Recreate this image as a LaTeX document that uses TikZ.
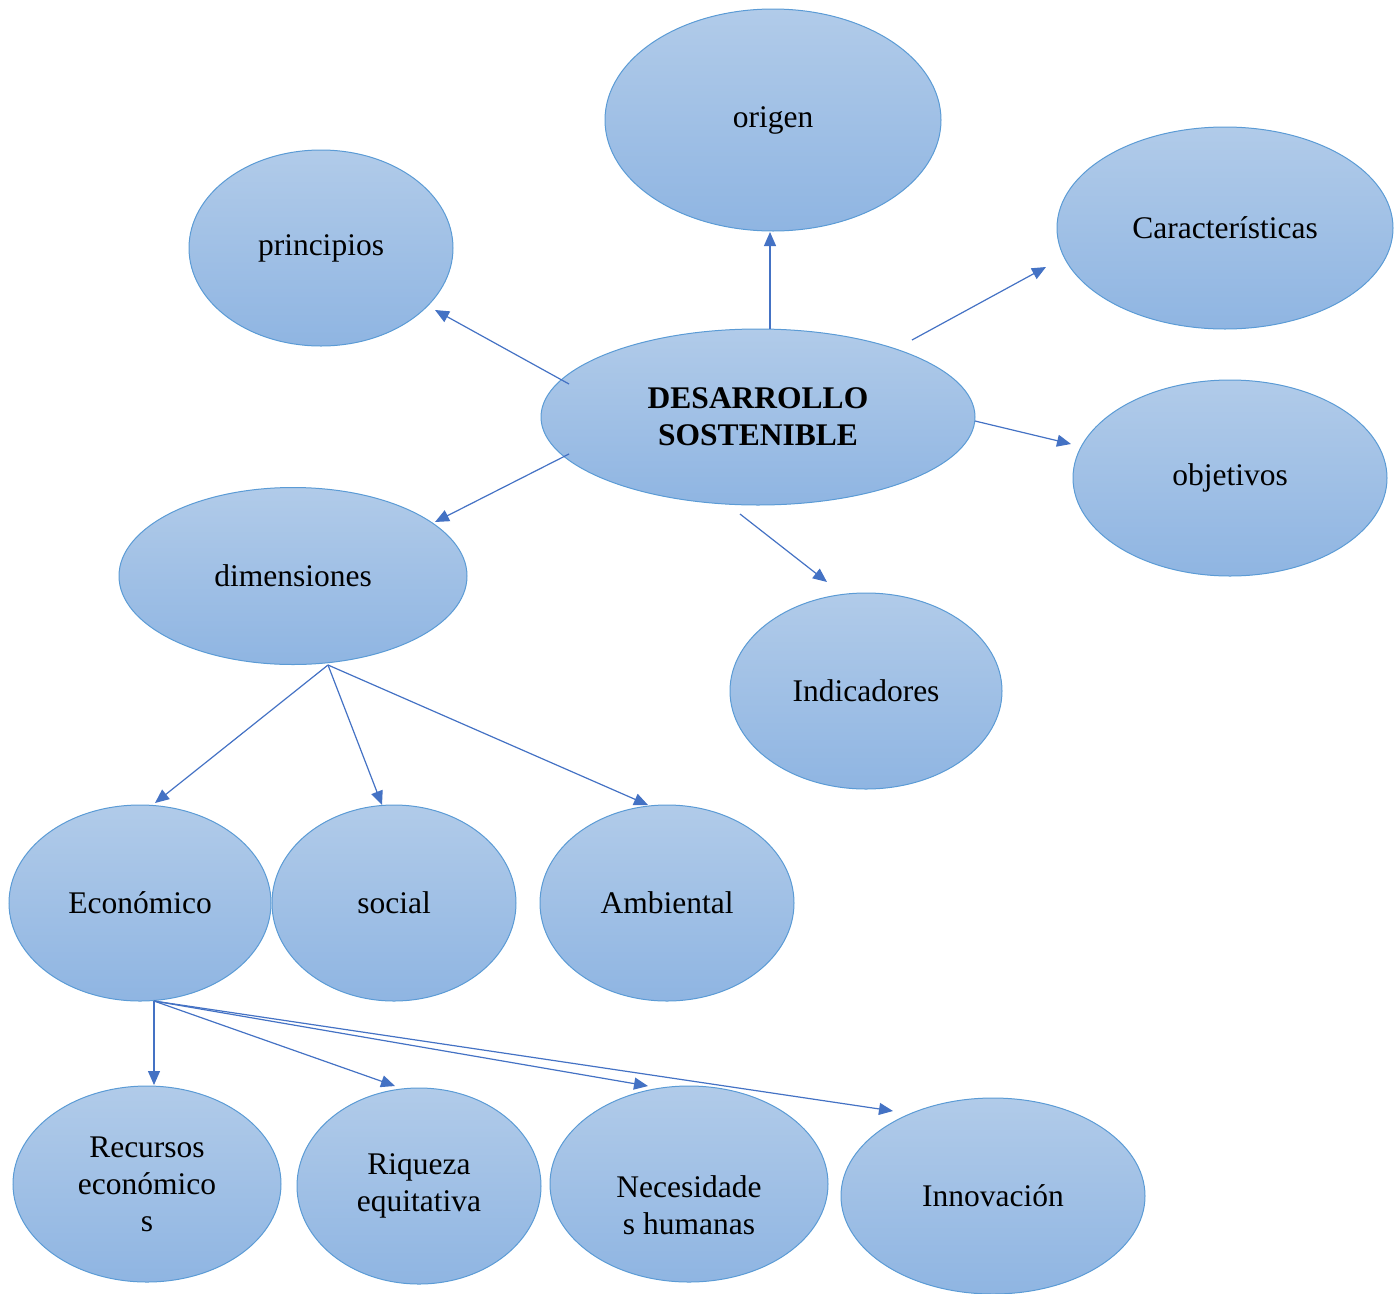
\documentclass[tikz,border=0pt]{standalone}
\usepackage{fontspec}
\setmainfont{Liberation Serif}
\usetikzlibrary{shapes.geometric,arrows.meta}
\definecolor{topc}{HTML}{B1CBE9}
\definecolor{botc}{HTML}{8FB5E2}
\definecolor{edgec}{HTML}{5B9BD5}
\definecolor{arrc}{HTML}{4472C4}
\tikzset{
  bub/.style 2 args={ellipse, draw=edgec, line width=1pt, top color=topc, bottom color=botc,
    minimum width=#1pt, minimum height=#2pt, inner sep=0pt, align=center,
    font=\fontsize{31.5}{37}\selectfont},
  lbl/.style={align=center, font=\fontsize{31.5}{37}\selectfont, inner sep=0pt},
  conn/.style={draw=arrc, line width=1.2pt, -{Triangle[length=14pt,width=12pt]}}
}
\begin{document}
\begin{tikzpicture}[x=1pt,y=-1pt]
\useasboundingbox (0,0) rectangle (1397,1293);
\node[bub={336}{222}] (origen) at (773,120) {origen};
\node[bub={264}{196}] (principios) at (321,248) {principios};
\node[bub={336}{202}] (caract) at (1225,228) {Características};
\node[bub={434}{176}] (ds) at (758,417) {\textbf{DESARROLLO}\\\textbf{SOSTENIBLE}};
\node[bub={314}{196}] (objetivos) at (1230,478) {objetivos};
\node[bub={348}{177}] (dim) at (293,576) {dimensiones};
\node[bub={272}{196}] (ind) at (866,691) {Indicadores};
\node[bub={262}{196}] (eco) at (140,903) {Económico};
\node[bub={244}{196}] (soc) at (394,903) {social};
\node[bub={254}{196}] (amb) at (667,903) {Ambiental};
\node[bub={268}{196}] (rec) at (147,1184) {Recursos\\económico\\s};
\node[bub={244}{196}] (riq) at (419,1186) {Riqueza\\equitativa};
\node[bub={278}{196}] (nec) at (689,1184) {};
\node[lbl] (neclbl) at (689,1205) {Necesidade\\s humanas};
\node[bub={304}{196}] (inn) at (993,1196) {Innovación};

% connector endpoints
\coordinate (a1s) at (770,329); \coordinate (a1e) at (770,232);
\coordinate (a2s) at (569,384); \coordinate (a2e) at (435,310);
\coordinate (a3s) at (912,340); \coordinate (a3e) at (1046,267);
\coordinate (a4s) at (975,421); \coordinate (a4e) at (1071,444);
\coordinate (a5s) at (569,454); \coordinate (a5e) at (435,522);
\coordinate (a6s) at (740,514); \coordinate (a6e) at (827,582);
\coordinate (dsrc) at (328,665);
\coordinate (b1e) at (155,803); \coordinate (b2e) at (382,805); \coordinate (b3e) at (648,805);
\coordinate (esrc) at (154,1001);
\coordinate (c1e) at (154,1085); \coordinate (c2e) at (395,1086);
\coordinate (c3e) at (648,1086); \coordinate (c4e) at (893,1111);

\draw[conn] (a1s) -- (a1e);
\draw[conn] (a2s) -- (a2e);
\draw[conn] (a3s) -- (a3e);
\draw[conn] (a4s) -- (a4e);
\draw[conn] (a5s) -- (a5e);
\draw[conn] (a6s) -- (a6e);
\draw[conn] (dsrc) -- (b1e);
\draw[conn] (dsrc) -- (b2e);
\draw[conn] (dsrc) -- (b3e);
\draw[conn] (esrc) -- (c1e);
\draw[conn] (esrc) -- (c2e);
\draw[conn] (esrc) -- (c3e);
\draw[conn] (esrc) -- (c4e);
\end{tikzpicture}
\end{document}
